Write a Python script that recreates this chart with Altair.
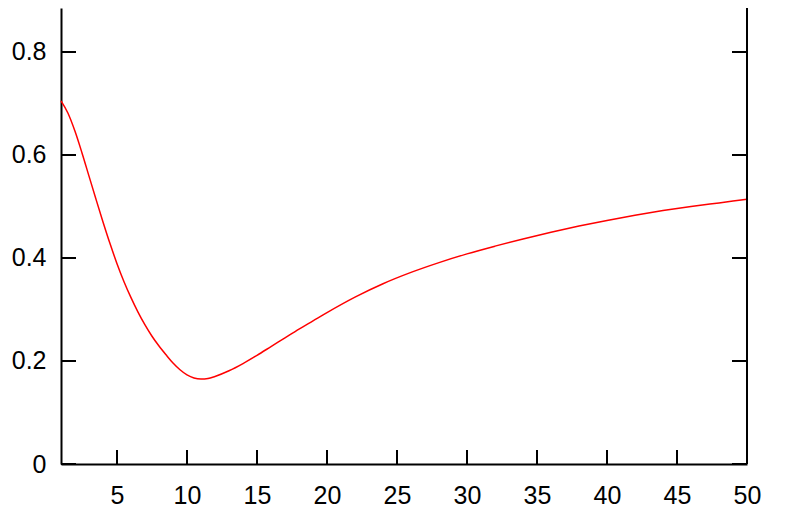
import altair as alt
import pandas as pd

# curve values
xs = [1, 1.5, 2, 2.5, 3, 3.5, 4, 4.5, 5, 5.5, 6, 6.5, 7, 7.5, 8, 8.5, 9, 9.5,
      10, 10.5, 11, 11.5, 12, 13, 14, 15, 16, 17, 18, 19, 20, 22, 24, 26, 28,
      30, 32, 34, 36, 38, 40, 42, 44, 46, 48, 50]
ys = [0.705, 0.681, 0.646, 0.604, 0.559, 0.514, 0.470, 0.428, 0.389, 0.354,
      0.323, 0.295, 0.270, 0.248, 0.229, 0.212, 0.196, 0.183, 0.173, 0.167,
      0.165, 0.166, 0.170, 0.181, 0.195, 0.211, 0.228, 0.245, 0.262, 0.278,
      0.294, 0.324, 0.350, 0.372, 0.391, 0.408, 0.423, 0.437, 0.450, 0.462,
      0.473, 0.483, 0.492, 0.500, 0.507, 0.514]

x_ticks = [5, 10, 15, 20, 25, 30, 35, 40, 45, 50]
y_ticks = [0, 0.2, 0.4, 0.6, 0.8]
x_domain = [1, 50]
y_domain = [0, 0.8854]

W, H = 686, 456
FONT = "Liberation Sans"
FS = 25

curve = pd.DataFrame({"x": xs, "y": ys})
xt = pd.DataFrame({"x": x_ticks[:-1]})
yt = pd.DataFrame({"y": y_ticks})
edge = pd.DataFrame({"x": [x_domain[1]]})

xscale = alt.Scale(domain=x_domain, nice=False, zero=False)
yscale = alt.Scale(domain=y_domain, nice=False, zero=False)

xaxis = alt.Axis(values=x_ticks, tickSize=0, grid=False, domainColor="black",
                 domainWidth=2, labelFont=FONT, labelFontSize=FS, labelColor="black",
                 labelPadding=19, labelFlush=False, labelOverlap=False, labelBound=False)
yaxis = alt.Axis(values=y_ticks, format=".1~f", tickSize=0, grid=False, domainColor="black",
                 domainWidth=2, labelFont=FONT, labelFontSize=FS, labelColor="black",
                 labelPadding=15, labelOverlap=False, labelBound=False)

line = alt.Chart(curve).mark_line(color="#ff0000", strokeWidth=1.5, interpolate="monotone").encode(
    x=alt.X("x:Q", scale=xscale, title=None, axis=xaxis),
    y=alt.Y("y:Q", scale=yscale, title=None, axis=yaxis),
)

right_border = alt.Chart(edge).mark_rule(color="black", strokeWidth=2).encode(
    x=alt.X("x:Q", scale=xscale, title=None, axis=xaxis),
    y=alt.value(0), y2=alt.value(H),
)

left_ticks = alt.Chart(yt).mark_rule(color="black", strokeWidth=2).encode(
    y=alt.Y("y:Q", scale=yscale, title=None, axis=yaxis), x=alt.value(0), x2=alt.value(15))
right_ticks = alt.Chart(yt).mark_rule(color="black", strokeWidth=2).encode(
    y=alt.Y("y:Q", scale=yscale, title=None, axis=yaxis), x=alt.value(W), x2=alt.value(W - 15))
bottom_ticks = alt.Chart(xt).mark_rule(color="black", strokeWidth=2).encode(
    x=alt.X("x:Q", scale=xscale, title=None, axis=xaxis), y=alt.value(H), y2=alt.value(H - 14))

chart = alt.layer(line, right_border, left_ticks, right_ticks, bottom_ticks).properties(
    width=W, height=H,
    autosize=alt.AutoSizeParams(type="none"),
    padding={"left": 53, "top": 0, "right": 37, "bottom": 45},
).configure_view(stroke=None)

chart.save("out.html", embed_options={"renderer": "svg", "actions": False})
